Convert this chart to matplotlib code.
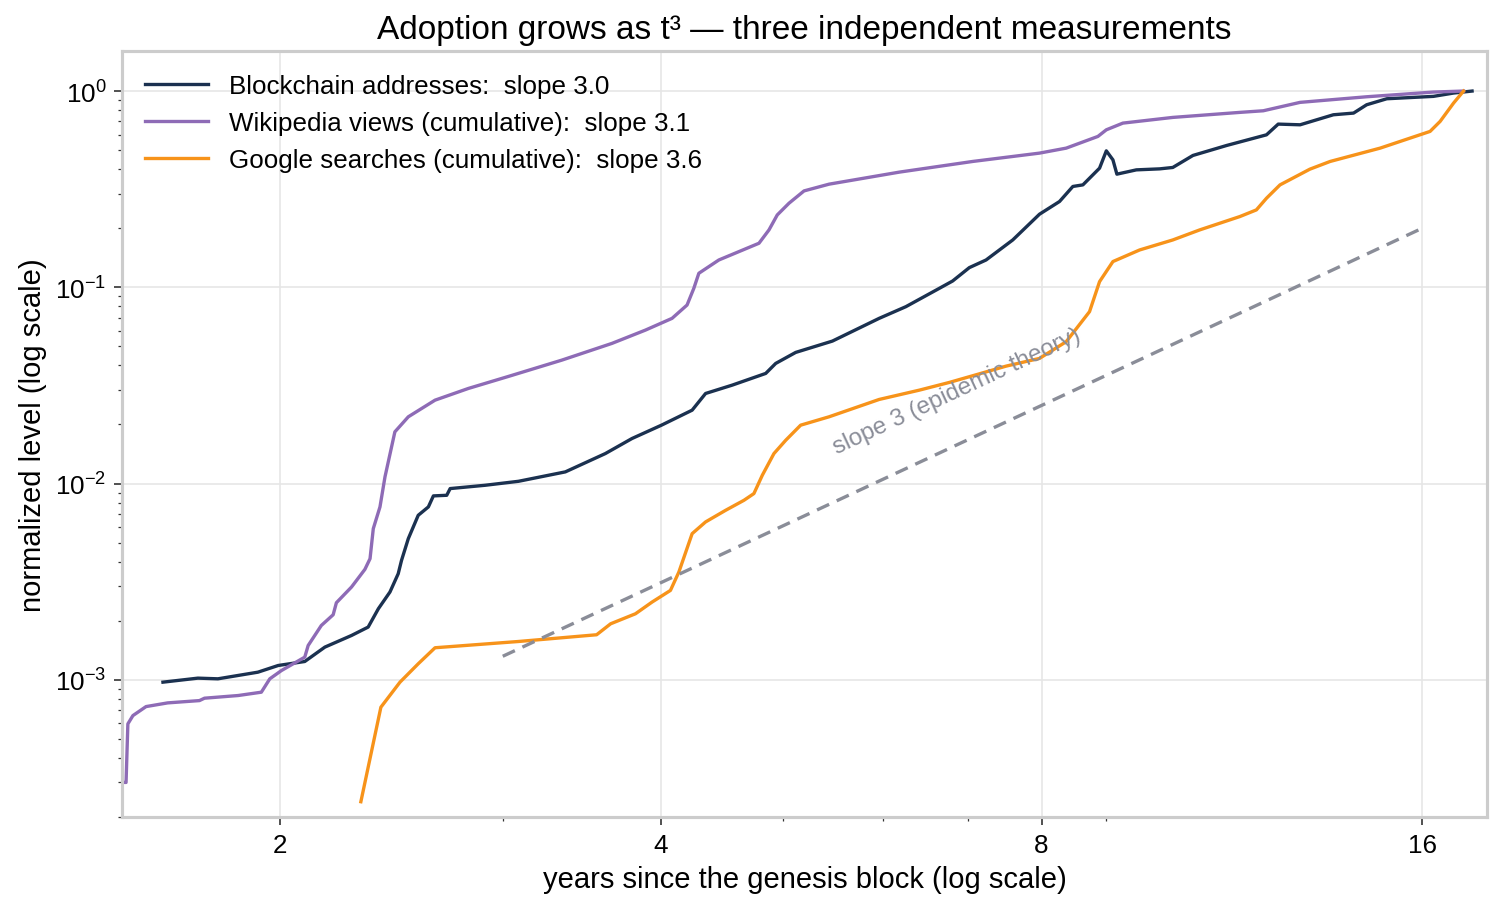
import numpy as np
import matplotlib
matplotlib.use("Agg")
import matplotlib.pyplot as plt
from matplotlib.ticker import FixedLocator, FixedFormatter, NullFormatter

plt.rcParams['font.family'] = ['Liberation Sans', 'DejaVu Sans']

# years since genesis block / normalized level
chain_x = [1.616, 1.722, 1.786, 1.921, 1.993, 2.092, 2.170, 2.278, 2.348, 2.392,
           2.443, 2.480, 2.495, 2.526, 2.572, 2.620, 2.644, 2.709, 2.726, 2.905,
           3.087, 3.362, 3.616, 3.796, 4.005, 4.235, 4.340, 4.555, 4.842, 4.931,
           5.114, 5.467, 5.953, 6.250, 6.642, 6.805, 7.015, 7.232, 7.592, 7.971,
           8.267, 8.470, 8.626, 8.892, 9.002, 9.111, 9.177, 9.508, 9.921, 10.16,
           10.54, 11.21, 12.05, 12.31, 12.81, 13.61, 14.12, 14.46, 15.00, 16.33,
           16.94, 17.52]
chain_y = [9.73e-4, 1.020e-3, 1.012e-3, 1.094e-3, 1.183e-3, 1.240e-3, 1.468e-3, 1.683e-3, 1.857e-3, 2.303e-3,
           2.802e-3, 3.473e-3, 4.061e-3, 5.241e-3, 6.892e-3, 7.605e-3, 8.654e-3, 8.716e-3, 9.430e-3, 9.802e-3,
           1.027e-2, 1.147e-2, 1.422e-2, 1.697e-2, 1.984e-2, 2.366e-2, 2.878e-2, 3.173e-2, 3.641e-2, 4.095e-2,
           4.660e-2, 5.321e-2, 6.948e-2, 7.97e-2, 9.88e-2, 0.1077, 0.1260, 0.1378, 0.1743, 0.2358,
           0.2737, 0.3265, 0.3326, 0.4047, 0.4959, 0.4461, 0.3772, 0.3967, 0.4014, 0.4080,
           0.4698, 0.5284, 0.5984, 0.6786, 0.6731, 0.7571, 0.7722, 0.8514, 0.9136, 0.9396,
           0.9768, 1.0]

wiki_x = [1.497, 1.511, 1.516, 1.530, 1.567, 1.630, 1.727, 1.743, 1.853, 1.933,
          1.963, 2.005, 2.092, 2.105, 2.156, 2.203, 2.216, 2.278, 2.334, 2.356,
          2.370, 2.399, 2.421, 2.465, 2.526, 2.652, 2.818, 3.031, 3.341, 3.660,
          3.890, 4.083, 4.196, 4.248, 4.287, 4.446, 4.783, 4.871, 4.945, 5.052,
          5.192, 5.434, 6.174, 7.058, 7.971, 8.368, 8.865, 9.002, 9.278, 10.16,
          11.48, 11.98, 12.81, 14.46, 16.33, 17.25]
wiki_y = [3.006e-4, 3.0e-4, 5.964e-4, 6.574e-4, 7.306e-4, 7.630e-4, 7.838e-4, 8.062e-4, 8.318e-4, 8.65e-4,
          1.012e-3, 1.115e-3, 1.305e-3, 1.496e-3, 1.892e-3, 2.146e-3, 2.471e-3, 2.972e-3, 3.654e-3, 4.143e-3,
          5.894e-3, 7.605e-3, 1.082e-2, 1.835e-2, 2.189e-2, 2.661e-2, 3.053e-2, 3.515e-2, 4.257e-2, 5.18e-2,
          6.054e-2, 6.948e-2, 8.123e-2, 9.88e-2, 0.1179, 0.1378, 0.1677, 0.1961, 0.2338, 0.2683,
          0.3099, 0.3354, 0.3862, 0.4378, 0.4828, 0.5119, 0.5872, 0.6346, 0.6866, 0.734,
          0.7786, 0.7935, 0.8757, 0.9352, 0.9883, 1.0]

google_x = [2.317, 2.403, 2.488, 2.572, 2.652, 3.087, 3.559, 3.651, 3.820, 3.937,
            4.071, 4.134, 4.235, 4.340, 4.501, 4.654, 4.739, 4.812, 4.915, 5.022,
            5.160, 5.434, 5.953, 6.404, 6.764, 7.058, 7.501, 7.971, 8.368, 8.731,
            8.892, 9.111, 9.565, 10.16, 10.67, 11.48, 11.83, 12.05, 12.35, 13.04,
            13.53, 14.82, 15.37, 16.23, 16.53, 16.94, 17.25]
google_y = [2.393e-4, 7.254e-4, 9.73e-4, 1.207e-3, 1.457e-3, 1.568e-3, 1.697e-3, 1.93e-3, 2.171e-3, 2.49e-3,
            2.855e-3, 3.543e-3, 5.557e-3, 6.377e-3, 7.307e-3, 8.219e-3, 8.892e-3, 1.102e-2, 1.422e-2, 1.663e-2,
            1.984e-2, 2.189e-2, 2.683e-2, 2.992e-2, 3.276e-2, 3.543e-2, 3.967e-2, 4.343e-2, 5.284e-2, 7.516e-2,
            0.1069, 0.1353, 0.155, 0.1743, 0.1961, 0.2294, 0.248, 0.2844, 0.3326, 0.3999,
            0.4378, 0.5119, 0.5538, 0.6228, 0.7004, 0.8687, 1.0]

# theory reference: slope 3 on log-log, anchored at 0.2 at t=16
ref_x = np.array([3.0, 16.0])
ref_y = 0.2 * (ref_x / 16.0) ** 3

labels = ['Blockchain addresses:  slope 3.0',
          'Wikipedia views (cumulative):  slope 3.1',
          'Google searches (cumulative):  slope 3.6']
colors = ['#1b3150', '#8e6bb6', '#f7931a']

fig, ax = plt.subplots(figsize=(10.02, 6.06), dpi=150)
fig.subplots_adjust(left=0.0812, right=0.9893, bottom=0.1001, top=0.9428)

ax.plot(chain_x, chain_y, color=colors[0], lw=1.6, label=labels[0])
ax.plot(wiki_x, wiki_y, color=colors[1], lw=1.6, label=labels[1])
ax.plot(google_x, google_y, color=colors[2], lw=1.6, label=labels[2])
ax.plot(ref_x, ref_y, color='#8a8d98', lw=1.6, ls=(0, (4, 2.5)))

ax.text(6.86, 0.0298, 'slope 3 (epidemic theory)', color='#8a8d98', fontsize=11.6,
        rotation=25, ha='center', va='center', rotation_mode='anchor')

ax.set_xscale('log')
ax.set_yscale('log')
ax.set_xlim(1.5, 18)
ax.set_ylim(2e-4, 1.6)

ax.xaxis.set_major_locator(FixedLocator([2, 4, 8, 16]))
ax.xaxis.set_major_formatter(FixedFormatter(['2', '4', '8', '16']))
ax.xaxis.set_minor_formatter(NullFormatter())

ax.grid(True, which='major', color='#e6e6e6', lw=0.8)
ax.set_axisbelow(True)
for s in ax.spines.values():
    s.set_color('#cccccc')
    s.set_linewidth(1.5)
ax.tick_params(which='major', labelsize=12.5, length=4, width=0.8, color='#333333')
ax.tick_params(which='minor', length=2, width=0.6, color='#333333')

ax.set_xlabel('years since the genesis block (log scale)', fontsize=14)
ax.set_ylabel('normalized level (log scale)', fontsize=14)
ax.set_title('Adoption grows as t³ — three independent measurements', fontsize=16)

ax.legend(loc='upper left', frameon=False, fontsize=12.5, handlelength=2.4)

plt.savefig('out.png', dpi=150)
